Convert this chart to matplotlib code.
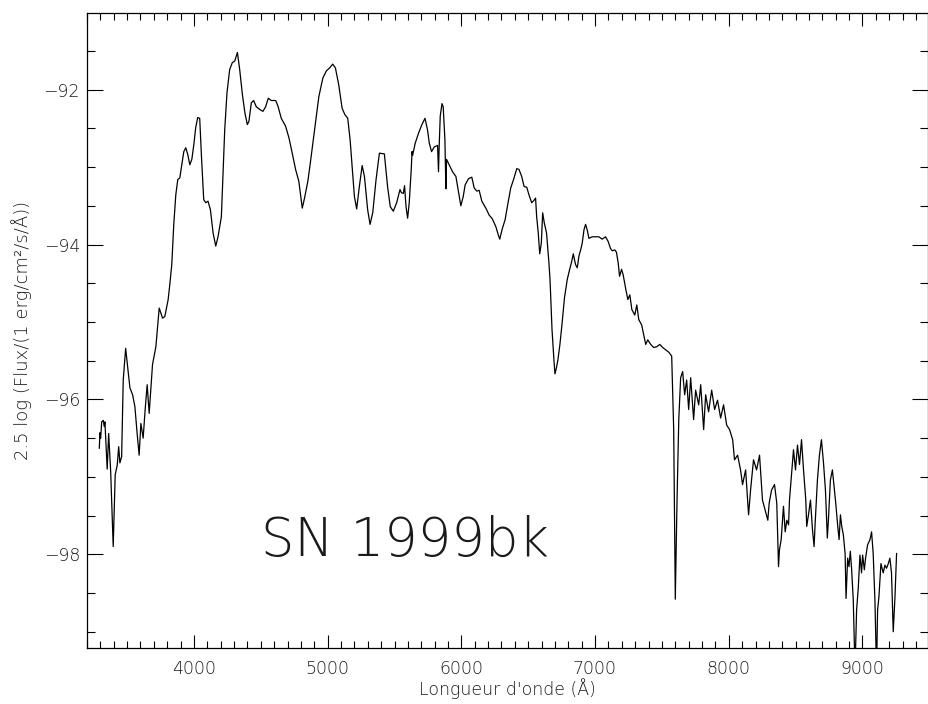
import matplotlib
matplotlib.use("Agg")
import matplotlib.pyplot as plt
from matplotlib.ticker import MultipleLocator

# SN 1999bk spectrum, wavelength (Angstrom) and 2.5 log flux
wave = [
    3292, 3297, 3302, 3310, 3322, 3329, 3334, 3351, 3362, 3377,
    3396, 3411, 3426, 3437, 3446, 3459, 3471, 3489, 3508, 3521,
    3541, 3558, 3575, 3590, 3603, 3620, 3635, 3650, 3665, 3690,
    3715, 3740, 3765, 3782, 3807, 3819, 3834, 3849, 3864, 3879,
    3894, 3909, 3924, 3939, 3954, 3969, 3984, 3999, 4013, 4028,
    4043, 4056, 4073, 4088, 4105, 4123, 4143, 4163, 4180, 4205,
    4230, 4247, 4267, 4287, 4305, 4325, 4342, 4362, 4381, 4399,
    4411, 4429, 4446, 4466, 4496, 4516, 4536, 4556, 4578, 4611,
    4628, 4653, 4685, 4710, 4735, 4760, 4784, 4810, 4827, 4852,
    4870, 4902, 4934, 4964, 4989, 5014, 5038, 5058, 5083, 5108,
    5128, 5150, 5168, 5187, 5200, 5217, 5237, 5258, 5275, 5299,
    5317, 5337, 5362, 5387, 5424, 5448, 5468, 5491, 5516, 5541,
    5551, 5566, 5575, 5586, 5598, 5610, 5625, 5631, 5635, 5655,
    5680, 5705, 5728, 5747, 5760, 5777, 5797, 5822, 5829, 5834,
    5842, 5855, 5864, 5877, 5884, 5889, 5909, 5934, 5959, 5979,
    5996, 6014, 6028, 6053, 6078, 6096, 6116, 6133, 6153, 6183,
    6208, 6232, 6258, 6275, 6287, 6307, 6327, 6344, 6369, 6394,
    6414, 6431, 6451, 6469, 6489, 6506, 6526, 6543, 6555, 6563,
    6575, 6586, 6598, 6608, 6620, 6637, 6655, 6663, 6678, 6693,
    6700, 6711, 6722, 6737, 6752, 6771, 6792, 6810, 6825, 6837,
    6854, 6867, 6879, 6892, 6904, 6917, 6929, 6941, 6954, 6978,
    7004, 7028, 7053, 7078, 7098, 7115, 7128, 7148, 7160, 7173,
    7183, 7198, 7210, 7230, 7245, 7260, 7275, 7297, 7312, 7327,
    7349, 7364, 7379, 7394, 7416, 7439, 7461, 7484, 7506, 7528,
    7551, 7573, 7588, 7600, 7613, 7626, 7640, 7655, 7670, 7685,
    7700, 7715, 7737, 7752, 7775, 7790, 7812, 7827, 7849, 7872,
    7894, 7916, 7939, 7961, 7984, 8006, 8029, 8043, 8066, 8088,
    8103, 8126, 8148, 8163, 8185, 8208, 8230, 8252, 8272, 8292,
    8302, 8320, 8342, 8359, 8372, 8379, 8392, 8409, 8422, 8434,
    8447, 8454, 8469, 8484, 8499, 8514, 8529, 8544, 8559, 8576,
    8583, 8596, 8611, 8626, 8638, 8646, 8663, 8678, 8693, 8708,
    8723, 8737, 8745, 8760, 8775, 8790, 8800, 8815, 8825, 8835,
    8845, 8857, 8870, 8877, 8889, 8899, 8909, 8919, 8931, 8944,
    8956, 8969, 8981, 8993, 9001, 9014, 9023, 9038, 9056, 9068,
    9080, 9093, 9105, 9113, 9123, 9138, 9155, 9168, 9180, 9193,
    9205, 9217, 9230, 9243, 9255,
]
mag = [
    -96.63, -96.43, -96.50, -96.29, -96.27, -96.35, -96.29, -96.90, -96.44, -96.93,
    -97.90, -96.97, -96.85, -96.61, -96.82, -96.74, -95.75, -95.34, -95.64, -95.85,
    -95.94, -96.09, -96.44, -96.72, -96.31, -96.50, -96.13, -95.81, -96.18, -95.55,
    -95.32, -94.82, -94.95, -94.93, -94.71, -94.52, -94.26, -93.74, -93.36, -93.16,
    -93.14, -92.97, -92.80, -92.75, -92.84, -92.97, -92.90, -92.71, -92.49, -92.36,
    -92.37, -92.86, -93.42, -93.46, -93.44, -93.55, -93.85, -94.02, -93.90, -93.64,
    -92.52, -92.04, -91.74, -91.65, -91.63, -91.52, -91.74, -92.06, -92.30, -92.45,
    -92.41, -92.17, -92.14, -92.22, -92.26, -92.28, -92.22, -92.11, -92.14, -92.14,
    -92.21, -92.37, -92.47, -92.62, -92.82, -93.03, -93.18, -93.53, -93.40, -93.18,
    -92.95, -92.52, -92.09, -91.85, -91.76, -91.72, -91.67, -91.72, -91.94, -92.24,
    -92.32, -92.37, -92.65, -93.08, -93.38, -93.54, -93.25, -92.98, -93.12, -93.55,
    -93.74, -93.59, -93.16, -92.82, -92.83, -93.25, -93.51, -93.57, -93.46, -93.29,
    -93.33, -93.34, -93.24, -93.51, -93.66, -93.46, -93.03, -92.80, -92.85, -92.69,
    -92.56, -92.45, -92.37, -92.52, -92.69, -92.80, -92.74, -92.72, -93.06, -92.73,
    -92.34, -92.18, -92.22, -92.65, -93.28, -92.90, -92.97, -93.06, -93.12, -93.33,
    -93.50, -93.38, -93.23, -93.15, -93.13, -93.27, -93.31, -93.30, -93.44, -93.53,
    -93.62, -93.67, -93.77, -93.87, -93.93, -93.79, -93.68, -93.51, -93.27, -93.14,
    -93.02, -93.03, -93.12, -93.25, -93.26, -93.36, -93.46, -93.43, -93.40, -93.64,
    -93.85, -94.12, -93.98, -93.59, -93.72, -93.85, -94.24, -94.45, -95.10, -95.51,
    -95.67, -95.59, -95.49, -95.29, -95.04, -94.69, -94.45, -94.32, -94.22, -94.12,
    -94.26, -94.30, -94.15, -94.07, -93.98, -93.81, -93.74, -93.81, -93.92, -93.90,
    -93.90, -93.90, -93.93, -93.90, -93.96, -94.05, -94.08, -94.07, -94.10, -94.24,
    -94.41, -94.32, -94.39, -94.58, -94.71, -94.65, -94.84, -94.91, -94.78, -94.97,
    -95.04, -95.17, -95.29, -95.23, -95.29, -95.33, -95.32, -95.29, -95.33, -95.36,
    -95.39, -95.44, -96.39, -98.58, -97.30, -96.26, -95.72, -95.64, -95.94, -95.75,
    -96.13, -95.72, -96.26, -95.88, -96.07, -95.81, -96.39, -95.94, -96.16, -95.88,
    -96.13, -96.01, -96.24, -96.07, -96.33, -96.39, -96.52, -96.78, -96.72, -96.91,
    -97.10, -96.91, -97.49, -97.17, -96.78, -96.91, -96.72, -97.30, -97.43, -97.56,
    -97.34, -97.17, -97.10, -97.34, -98.16, -97.94, -97.81, -97.38, -97.71, -97.56,
    -97.62, -97.30, -96.97, -96.65, -96.91, -96.59, -96.84, -96.52, -96.91, -97.30,
    -97.64, -97.49, -97.30, -97.68, -97.90, -97.60, -97.04, -96.72, -96.52, -96.81,
    -97.17, -97.79, -97.56, -97.04, -96.91, -97.17, -97.34, -97.64, -97.81, -97.49,
    -97.64, -97.75, -97.99, -98.57, -98.05, -98.16, -97.96, -98.20, -98.59, -99.50,
    -98.72, -98.42, -98.01, -98.24, -98.01, -98.20, -98.05, -97.88, -97.81, -97.71,
    -97.99, -98.59, -99.50, -98.72, -98.55, -98.12, -98.24, -98.14, -98.18, -98.12,
    -98.05, -98.24, -99.00, -98.55, -97.99,
]

x_range = (3200, 9490)
y_range = (-99.21, -91.01)

plt.rcParams["font.family"] = ["DejaVu Sans"]
ink = "#1a1a1a"

fig = plt.figure(figsize=(9.29, 7.04), dpi=100)
ax = fig.add_axes([87 / 929, 56 / 704, 841 / 929, 635 / 704])

ax.plot(wave, mag, color="black", lw=0.9)

ax.set_xlim(*x_range)
ax.set_ylim(*y_range)

ax.xaxis.set_major_locator(MultipleLocator(1000))
ax.xaxis.set_minor_locator(MultipleLocator(100))
ax.yaxis.set_major_locator(MultipleLocator(2))
ax.yaxis.set_minor_locator(MultipleLocator(0.5))

ax.tick_params(which="both", direction="in", top=True, right=True,
               width=0.8, color="black", labelsize=12.5, labelcolor=ink)
ax.tick_params(axis="x", which="major", length=9.4, pad=9)
ax.tick_params(axis="x", which="minor", length=5)
ax.tick_params(axis="y", which="major", length=11.5, pad=5)
ax.tick_params(axis="y", which="minor", length=5.8)
for lab in ax.get_xticklabels() + ax.get_yticklabels():
    lab.set_fontweight("light")
for s in ax.spines.values():
    s.set_linewidth(0.9)

ax.set_xlabel("Longueur d'onde (Å)", fontsize=12.5, fontweight="light",
              color=ink, labelpad=0)
ax.set_ylabel("2.5 log (Flux/(1 erg/cm²/s/Å))", fontsize=13,
              fontweight="light", color=ink, labelpad=8)

ax.text(4505, -98.02, "SN 1999bk", fontsize=38, fontweight="light",
        color=ink, ha="left", va="baseline")

fig.savefig("out.png", dpi=100)
